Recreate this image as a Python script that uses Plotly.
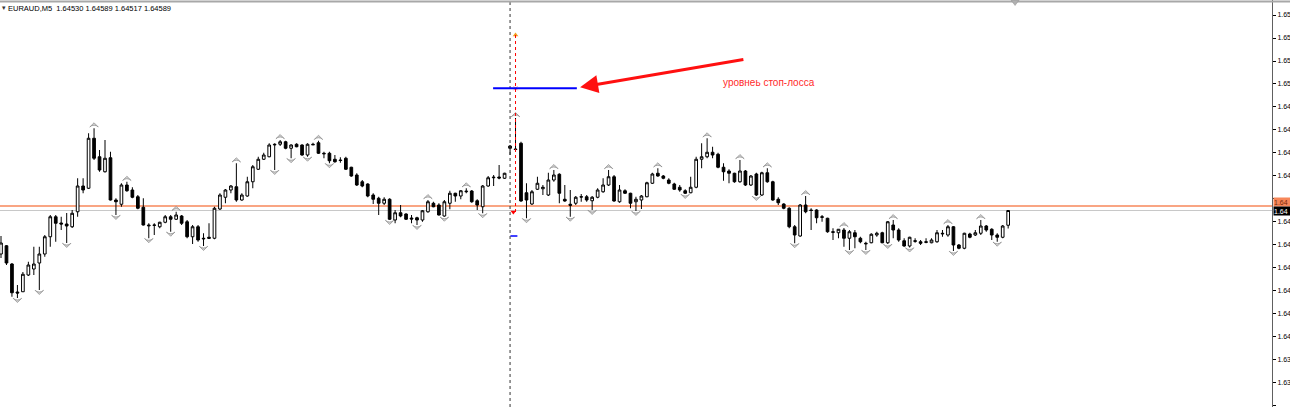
import plotly.graph_objects as go

# ---------------- data (prices in points, 1 point = 0.00001) ----------------
symbol_text = "EURAUD,M5  1.64530 1.64589 1.64517 1.64589"
label_text = "уровнеь стоп-лосса"

open_pts = [
    164415, 164448, 164375, 164263, 164264, 164331, 164355, 164379, 164415, 164484,
    164564, 164539, 164535, 164524, 164584, 164687, 164678, 164878, 164804, 164744,
    164800, 164631, 164614, 164691, 164671, 164644, 164602, 164531, 164531, 164524,
    164542, 164564, 164554, 164567, 164544, 164484, 164524, 164478, 164482, 164478,
    164595, 164642, 164671, 164684, 164631, 164647, 164704, 164754, 164794, 164804,
    164854, 164854, 164864, 164838, 164854, 164851, 164811, 164854, 164860, 164818,
    164818, 164794, 164791, 164798, 164762, 164731, 164704, 164695, 164651, 164638,
    164618, 164634, 164551, 164580, 164575, 164559, 164560, 164551, 164584, 164618,
    164611, 164567, 164618, 164658, 164647, 164664, 164667, 164628, 164604, 164687,
    164720, 164723, 164718, 164847, 164835, 164858, 164660, 164615, 164674, 164676,
    164651, 164711, 164734, 164634, 164614, 164618, 164644, 164644, 164628, 164642,
    164664, 164691, 164724, 164624, 164668, 164658, 164624, 164631, 164644, 164698,
    164738, 164727, 164711, 164695, 164682, 164668, 164660, 164682, 164794, 164804,
    164822, 164814, 164762, 164747, 164738, 164704, 164747, 164691, 164735, 164651,
    164740, 164704, 164634, 164615, 164598, 164524, 164487, 164611, 164591, 164591,
    164564, 164558, 164504, 164500, 164511, 164478, 164500, 164478, 164458, 164460,
    164491, 164500, 164460, 164531, 164511, 164468, 164447, 164468, 164464, 164464,
    164460, 164464, 164498, 164491, 164524, 164451, 164438, 164495, 164491, 164498,
    164527, 164514, 164491, 164482, 164530]

high_pts = [
    164487, 164451, 164379, 164291, 164343, 164384, 164444, 164444, 164491, 164571,
    164571, 164564, 164579, 164591, 164718, 164718, 164898, 164918, 164831, 164871,
    164824, 164638, 164698, 164704, 164682, 164651, 164638, 164538, 164538, 164544,
    164571, 164571, 164584, 164571, 164551, 164531, 164531, 164498, 164538, 164604,
    164658, 164675, 164691, 164778, 164658, 164724, 164771, 164804, 164820, 164858,
    164858, 164871, 164868, 164854, 164858, 164854, 164858, 164860, 164868, 164824,
    164824, 164811, 164802, 164804, 164764, 164738, 164711, 164698, 164658, 164644,
    164642, 164638, 164591, 164611, 164578, 164571, 164564, 164591, 164631, 164624,
    164618, 164631, 164668, 164660, 164671, 164678, 164671, 164634, 164691, 164727,
    164731, 164771, 164740, 164851, 164959, 164864, 164698, 164671, 164724, 164691,
    164740, 164751, 164738, 164691, 164671, 164647, 164655, 164651, 164647, 164678,
    164718, 164751, 164731, 164691, 164674, 164660, 164644, 164651, 164704, 164740,
    164758, 164731, 164718, 164700, 164691, 164674, 164724, 164804, 164858, 164878,
    164844, 164820, 164778, 164754, 164740, 164791, 164751, 164731, 164740, 164744,
    164758, 164708, 164642, 164618, 164602, 164531, 164615, 164647, 164598, 164594,
    164571, 164560, 164518, 164515, 164519, 164511, 164511, 164484, 164464, 164498,
    164504, 164504, 164547, 164551, 164518, 164478, 164484, 164478, 164471, 164478,
    164478, 164511, 164511, 164531, 164527, 164455, 164500, 164500, 164511, 164551,
    164531, 164518, 164498, 164531, 164589]

low_pts = [
    164399, 164371, 164244, 164239, 164263, 164327, 164331, 164271, 164404, 164444,
    164464, 164511, 164459, 164519, 164564, 164658, 164675, 164791, 164744, 164741,
    164629, 164571, 164604, 164664, 164638, 164594, 164529, 164478, 164491, 164518,
    164538, 164504, 164551, 164531, 164478, 164455, 164464, 164447, 164475, 164474,
    164591, 164618, 164658, 164624, 164628, 164644, 164678, 164751, 164791, 164802,
    164751, 164847, 164834, 164798, 164842, 164808, 164804, 164851, 164815, 164798,
    164778, 164780, 164780, 164751, 164724, 164687, 164682, 164642, 164615, 164571,
    164611, 164551, 164538, 164562, 164551, 164538, 164531, 164544, 164580, 164602,
    164569, 164564, 164594, 164624, 164634, 164658, 164620, 164591, 164578, 164684,
    164687, 164714, 164715, 164811, 164831, 164624, 164558, 164611, 164671, 164651,
    164647, 164704, 164618, 164624, 164564, 164611, 164624, 164624, 164591, 164638,
    164660, 164687, 164624, 164620, 164655, 164598, 164587, 164595, 164642, 164695,
    164724, 164714, 164694, 164671, 164664, 164655, 164658, 164678, 164758, 164798,
    164798, 164758, 164708, 164698, 164700, 164700, 164687, 164687, 164647, 164647,
    164700, 164628, 164611, 164594, 164518, 164458, 164484, 164578, 164511, 164538,
    164544, 164500, 164471, 164478, 164444, 164431, 164438, 164458, 164431, 164458,
    164484, 164458, 164455, 164478, 164464, 164444, 164441, 164460, 164451, 164458,
    164458, 164460, 164484, 164484, 164427, 164434, 164434, 164478, 164487, 164491,
    164504, 164471, 164464, 164478, 164517]

close_pts = [
    164459, 164379, 164260, 164259, 164334, 164371, 164375, 164415, 164484, 164564,
    164538, 164535, 164527, 164578, 164687, 164671, 164878, 164798, 164751, 164798,
    164631, 164624, 164691, 164668, 164642, 164598, 164531, 164528, 164530, 164542,
    164564, 164554, 164571, 164538, 164484, 164524, 164471, 164476, 164478, 164598,
    164651, 164671, 164687, 164631, 164651, 164704, 164764, 164794, 164811, 164851,
    164852, 164864, 164838, 164851, 164844, 164811, 164854, 164852, 164818, 164816,
    164788, 164784, 164789, 164754, 164727, 164691, 164687, 164647, 164634, 164618,
    164634, 164554, 164580, 164567, 164554, 164555, 164551, 164588, 164624, 164604,
    164571, 164624, 164658, 164647, 164668, 164666, 164624, 164611, 164687, 164720,
    164722, 164719, 164738, 164838, 164833, 164627, 164631, 164664, 164698, 164682,
    164711, 164731, 164658, 164627, 164610, 164642, 164643, 164631, 164642, 164671,
    164691, 164724, 164627, 164671, 164658, 164618, 164634, 164647, 164700, 164735,
    164727, 164718, 164698, 164674, 164671, 164658, 164682, 164794, 164804, 164822,
    164811, 164762, 164744, 164738, 164704, 164747, 164691, 164727, 164651, 164740,
    164704, 164631, 164620, 164598, 164524, 164491, 164611, 164584, 164589, 164560,
    164562, 164504, 164502, 164514, 164478, 164504, 164484, 164464, 164456, 164494,
    164498, 164460, 164544, 164511, 164471, 164447, 164482, 164466, 164458, 164462,
    164471, 164500, 164496, 164524, 164451, 164438, 164498, 164482, 164500, 164527,
    164511, 164491, 164482, 164527, 164589]

up_fractal_idx = [17, 23, 32, 43, 51, 58, 78, 85, 94, 101, 111, 120, 129, 135,
                  140, 147, 154, 163, 173, 179]
down_fractal_idx = [3, 7, 12, 21, 27, 31, 37, 50, 53, 56, 60, 71, 76, 81, 88, 96,
                    104, 108, 116, 125, 138, 145, 155, 158, 162, 166, 174, 182]

# axis ticks (the label at 1.64637 is hidden behind the orange price tag)
tick_vals = [1.65371, 1.65279, 1.65187, 1.65096, 1.65004, 1.64912, 1.64820,
             1.64729, 1.64637, 1.64545, 1.64453, 1.64361, 1.64270, 1.64178,
             1.64086, 1.63994, 1.63902, 1.63811]
tick_text = ["1.65", "1.65", "1.65", "1.65", "1.64", "1.64", "1.64", "1.64",
             "", "1.64", "1.64", "1.64", "1.64", "1.64", "1.64", "1.63",
             "1.63", "1.63"]

bid_price = 1.64589
hline_price = 1.64607          # orange horizontal line
hline_tag_price = 1.64623      # orange tag on the axis
stop_loss_price = 1.65078      # blue stop-loss level
order_bar = 94                 # bar with the trade marks
cursor_bar = 93                # vertical dotted cursor line
trade_top = 1.65291
trade_bottom = 1.64583
blue_mark_price = 1.64487
stop_loss_bars = [89.9, 105.2]
arrow_tip = (105.8, 1.65082)
arrow_tail = (135.9, 1.65194)
label_pos = (131.5, 1.65100)

y_range = [1.63803, 1.65431]
x_range = [-0.183, 232.2]

# ---------------- build ----------------
o = [v / 1e5 for v in open_pts]
h = [v / 1e5 for v in high_pts]
l = [v / 1e5 for v in low_pts]
c = [v / 1e5 for v in close_pts]
idx = list(range(len(o)))

fig = go.Figure()

# horizontal lines (behind candles)
fig.add_shape(type="line", xref="paper", x0=0, x1=1, yref="y", y0=bid_price, y1=bid_price,
              line=dict(color="#c8c8c8", width=1), layer="below")
fig.add_shape(type="line", xref="paper", x0=0, x1=1, yref="y", y0=hline_price, y1=hline_price,
              line=dict(color="#f7875a", width=1.5), layer="below")

fig.add_trace(go.Candlestick(
    x=idx, open=o, high=h, low=l, close=c,
    increasing=dict(line=dict(color="black", width=1), fillcolor="white"),
    decreasing=dict(line=dict(color="black", width=1), fillcolor="black"),
    whiskerwidth=0, hoverinfo="skip", showlegend=False))

# fractals
up_off = 0.00022
dn_off = 0.00018
frac_marker = dict(symbol="arrow-wide", size=6, color="#d2d2d2",
                   line=dict(color="#8a8a8a", width=0.7))
fig.add_trace(go.Scatter(
    x=up_fractal_idx, y=[h[i] + up_off for i in up_fractal_idx], mode="markers",
    marker=dict(frac_marker, angle=0), hoverinfo="skip", showlegend=False))
fig.add_trace(go.Scatter(
    x=down_fractal_idx, y=[l[i] - dn_off for i in down_fractal_idx], mode="markers",
    marker=dict(frac_marker, angle=180), hoverinfo="skip", showlegend=False))

# cursor line & trade line
fig.add_shape(type="line", x0=cursor_bar, x1=cursor_bar, yref="paper", y0=0, y1=1,
              line=dict(color="#333333", width=1, dash="dot"))
fig.add_shape(type="line", x0=order_bar, x1=order_bar, y0=trade_bottom, y1=trade_top,
              line=dict(color="#ff0000", width=1, dash="dot"))
# stop loss line
fig.add_shape(type="line", x0=stop_loss_bars[0], x1=stop_loss_bars[1],
              y0=stop_loss_price, y1=stop_loss_price, line=dict(color="#0000ff", width=2))

# small trade marks
fig.add_trace(go.Scatter(x=[order_bar], y=[trade_top], mode="markers",
                         marker=dict(symbol="triangle-up", size=5, color="#f0a020"),
                         hoverinfo="skip", showlegend=False))
fig.add_trace(go.Scatter(x=[order_bar - 0.4], y=[trade_bottom], mode="markers",
                         marker=dict(symbol="triangle-down", size=5, color="#ff0000"),
                         hoverinfo="skip", showlegend=False))
fig.add_trace(go.Scatter(x=[order_bar], y=[stop_loss_price], mode="markers",
                         marker=dict(symbol="x-thin", size=4, line=dict(color="#ff9090", width=1)),
                         hoverinfo="skip", showlegend=False))
fig.add_trace(go.Scatter(x=[order_bar - 0.3], y=[blue_mark_price], mode="markers",
                         marker=dict(symbol="line-ew", size=5, line=dict(color="#0000ff", width=1.5)),
                         hoverinfo="skip", showlegend=False))

# red arrow + text
fig.add_annotation(x=arrow_tip[0], y=arrow_tip[1], ax=arrow_tail[0], ay=arrow_tail[1],
                   axref="x", ayref="y", text="", showarrow=True, arrowhead=2,
                   arrowsize=1.2, arrowwidth=3, arrowcolor="#ff1010", standoff=0)
fig.add_annotation(x=label_pos[0], y=label_pos[1], text=label_text, showarrow=False,
                   xanchor="left", yanchor="middle",
                   font=dict(family="Liberation Sans", size=10, color="#ff2a2a"))

# header text
fig.add_annotation(xref="paper", yref="paper", x=6 / 1272, y=1 - 8 / 407, text=symbol_text,
                   showarrow=False, xanchor="left", yanchor="middle",
                   font=dict(family="Liberation Sans", size=7.5, color="black"))
fig.add_annotation(xref="paper", yref="paper", x=0, y=1 - 8 / 407, text="▾",
                   showarrow=False, xanchor="left", yanchor="middle",
                   font=dict(family="DejaVu Sans", size=7, color="#333333"))

# price tags on axis
fig.add_annotation(xref="paper", x=1, y=hline_tag_price, text="1.64", showarrow=False,
                   xanchor="left", yanchor="middle", bgcolor="#f7875a", borderpad=0,
                   height=8, width=17, align="left",
                   font=dict(family="Liberation Sans", size=7, color="#7a2a08"), xshift=1)
fig.add_annotation(xref="paper", x=1, y=bid_price, text="1.64", showarrow=False,
                   xanchor="left", yanchor="middle", bgcolor="black", borderpad=0,
                   height=8, width=17, align="left",
                   font=dict(family="Liberation Sans", size=7, color="white"), xshift=1)

# top border and chart-shift marker
fig.add_shape(type="line", xref="paper", yref="paper", x0=0, x1=1.02, y0=1 - 1.5 / 407,
              y1=1 - 1.5 / 407, line=dict(color="#a8a8a8", width=2))
fig.add_shape(type="path", xref="paper", yref="paper",
              path="M 0.7948 1 L 0.8012 1 L 0.798 0.9865 Z",
              fillcolor="#b0b0b0", line=dict(color="#909090", width=0.5))

fig.update_layout(
    width=1290, height=407, margin=dict(l=0, r=18, t=0, b=0),
    paper_bgcolor="white", plot_bgcolor="white", showlegend=False,
    xaxis=dict(range=x_range, showgrid=False, zeroline=False, showticklabels=False,
               ticks="", showline=False, rangeslider=dict(visible=False), fixedrange=True),
    yaxis=dict(side="right", range=y_range, tickvals=tick_vals, ticktext=tick_text,
               ticks="outside", ticklen=3, tickcolor="black", showgrid=False,
               showline=True, linecolor="#606060", linewidth=1, zeroline=False,
               automargin=False, fixedrange=True,
               tickfont=dict(family="Liberation Sans", size=7, color="black")),
)

fig.write_html("out.html")
